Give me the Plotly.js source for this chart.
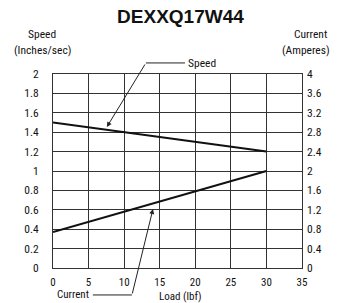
<!DOCTYPE html>
<html><head><meta charset="utf-8">
<script src="https://cdn.plot.ly/plotly-3.0.1.min.js"></script>
<style>html,body{margin:0;padding:0;background:#fff}</style>
</head><body><div id="chart" style="width:345px;height:303px"></div>
<script>
const loadLbf = [0, 30];
const speedIn = [1.5, 1.2];
const currentA = [0.74, 2.0];
const xTicks = [0, 5, 10, 15, 20, 25, 30, 35];
const speedTicks = [0, 0.2, 0.4, 0.6, 0.8, 1, 1.2, 1.4, 1.6, 1.8, 2];
const currentTicks = [0, 0.4, 0.8, 1.2, 1.6, 2, 2.4, 2.8, 3.2, 3.6, 4];

const F = "'Liberation Sans Narrow', 'Roboto Condensed', 'Arial Narrow', Roboto, sans-serif";
const gridC = '#333';
const traces = [
  {x: loadLbf, y: speedIn, mode: 'lines', line: {color: '#111', width: 2}, yaxis: 'y', hoverinfo: 'skip'},
  {x: loadLbf, y: currentA, mode: 'lines', line: {color: '#111', width: 2}, yaxis: 'y2', hoverinfo: 'skip'}
];
const layout = {
  width: 345, height: 303,
  margin: {l: 53, r: 43, t: 74, b: 35, pad: 0},
  paper_bgcolor: '#fff', plot_bgcolor: '#fff',
  showlegend: false,
  font: {family: F, size: 11.5, color: '#111'},
  title: {text: '<b>DEXXQ17W44</b>', font: {family: "'Liberation Sans', Arial, sans-serif", size: 19, color: '#111'}, x: 0.523, xanchor: 'center', y: 0.947, yanchor: 'middle'},
  xaxis: {range: [0, 35], tickvals: xTicks, ticktext: xTicks.map(String), showgrid: true, gridcolor: gridC, gridwidth: 1,
    showline: true, linecolor: gridC, linewidth: 1, mirror: true, zeroline: false, ticks: '', ticklabelstandoff: 4,
    tickfont: {size: 11}, fixedrange: true},
  yaxis: {range: [0, 2], tickvals: speedTicks, ticktext: speedTicks.map(String), showgrid: true, gridcolor: gridC, gridwidth: 1,
    showline: true, linecolor: gridC, linewidth: 1, mirror: true, zeroline: false, ticks: '', ticklabelstandoff: 11, fixedrange: true},
  yaxis2: {range: [0, 4], tickvals: currentTicks, ticktext: currentTicks.map(String), overlaying: 'y', side: 'right', showgrid: false,
    showline: false, zeroline: false, ticks: '', ticklabelstandoff: 4, fixedrange: true},
  shapes: [
    {type: 'line', xref: 'paper', yref: 'paper', x0: 0.373, x1: 0.530, y0: 1.057, y1: 1.057, line: {color: '#222', width: 1}},
    {type: 'line', xref: 'paper', yref: 'paper', x0: 0.160, x1: 0.317, y0: -0.139, y1: -0.139, line: {color: '#222', width: 1}}
  ],
  annotations: [
    {xref: 'paper', yref: 'paper', x: -0.0455, y: 1.206, xanchor: 'center', yanchor: 'middle', text: 'Speed', showarrow: false, borderpad: 0},
    {xref: 'paper', yref: 'paper', x: -0.0415, y: 1.124, xanchor: 'center', yanchor: 'middle', text: '(Inches/sec)', showarrow: false, borderpad: 0},
    {xref: 'paper', yref: 'paper', x: 1.035, y: 1.206, xanchor: 'center', yanchor: 'middle', text: 'Current', showarrow: false, borderpad: 0},
    {xref: 'paper', yref: 'paper', x: 1.017, y: 1.124, xanchor: 'center', yanchor: 'middle', text: '(Amperes)', showarrow: false, borderpad: 0},
    {xref: 'paper', yref: 'paper', x: 0.537, y: 1.057, xanchor: 'left', yanchor: 'middle', text: 'Speed', showarrow: false, borderpad: 0},
    {xref: 'paper', yref: 'paper', x: 0.148, y: -0.139, xanchor: 'right', yanchor: 'middle', text: 'Current', showarrow: false, borderpad: 0, font: {size: 11}},
    {xref: 'paper', yref: 'paper', x: 0.511, y: -0.147, xanchor: 'center', yanchor: 'middle', text: 'Load (lbf)', showarrow: false, borderpad: 0, font: {size: 11}},
    {xref: 'x', yref: 'y', x: 7.57, y: 1.454, text: '', showarrow: true, ax: 39, ay: -64, arrowhead: 2, arrowsize: 1, arrowwidth: 1, arrowcolor: '#222'},
    {xref: 'x', yref: 'y', x: 14.05, y: 0.608, text: '', showarrow: true, ax: -21, ay: 86, arrowhead: 2, arrowsize: 1, arrowwidth: 1, arrowcolor: '#222'}
  ]
};
Plotly.newPlot('chart', traces, layout, {displayModeBar: false, staticPlot: true});
</script></body></html>
